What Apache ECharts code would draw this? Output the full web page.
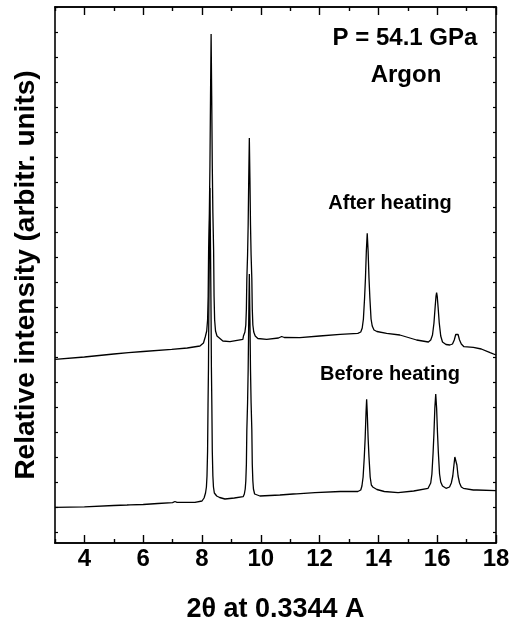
<!DOCTYPE html>
<html>
<head>
<meta charset="utf-8">
<script src="https://cdn.jsdelivr.net/npm/echarts@6/dist/echarts.min.js"></script>
<style>
  html, body { margin: 0; padding: 0; background: #fff; }
  #chart { width: 509px; height: 623px; }
</style>
</head>
<body>
<div id="chart"></div>
<script>
// Diffraction patterns at 54.1 GPa, Argon medium: [2theta (deg), intensity (arb. units, upper trace offset)]
const afterHeating = [
  [3.0, 183.7], [4.0, 186], [5.0, 189], [5.5, 190.4], [6.0, 191.5], [6.97, 193.7], [7.5, 195],
  [7.93, 197], [8.05, 200], [8.11, 206], [8.16, 212], [8.19, 223], [8.21, 247], [8.225, 293],
  [8.25, 330], [8.27, 377], [8.29, 447], [8.31, 509], [8.33, 447], [8.35, 377], [8.37, 330],
  [8.395, 293], [8.41, 247], [8.43, 223], [8.46, 212], [8.51, 207], [8.71, 202], [8.95, 201.3],
  [9.39, 203.7], [9.41, 207], [9.46, 211], [9.49, 218], [9.51, 234], [9.525, 264], [9.55, 288],
  [9.57, 318], [9.59, 365], [9.61, 405], [9.63, 365], [9.65, 318], [9.67, 288], [9.695, 264],
  [9.71, 234], [9.73, 218], [9.76, 211], [9.81, 207], [9.9, 204.5], [10.2, 203.7], [10.6, 205],
  [10.71, 206.5], [10.8, 205.5], [11.33, 205.3], [12.0, 207], [12.7, 208.7], [13.3, 209.7],
  [13.4, 211], [13.45, 215], [13.49, 224], [13.53, 245], [13.56, 265], [13.59, 292], [13.62, 309.7],
  [13.65, 292], [13.68, 265], [13.71, 245], [13.75, 224], [13.79, 217], [13.85, 213], [13.95, 211.5],
  [14.28, 209.7], [14.73, 208], [15.3, 203], [15.7, 201], [15.78, 203], [15.84, 208], [15.89, 220],
  [15.93, 236], [15.96, 247], [15.98, 250.3], [16.0, 247], [16.03, 236], [16.07, 220], [16.12, 207],
  [16.18, 201], [16.3, 198.5], [16.43, 198], [16.52, 199], [16.58, 203], [16.63, 208.5],
  [16.67, 210.3], [16.71, 208.5], [16.76, 203], [16.82, 199], [16.91, 196.3], [17.23, 195.7],
  [17.5, 194], [17.8, 190.3], [18.0, 188]
];

const beforeHeating = [
  [3.0, 35.7], [4.0, 36.2], [5.0, 37.5], [5.45, 38], [5.5, 39], [5.55, 38.2], [6.0, 38.5],
  [6.5, 39.5], [7.0, 40.3], [7.08, 41.5], [7.15, 40.7], [7.76, 40.7], [8.0, 42], [8.07, 45],
  [8.12, 50], [8.15, 56], [8.17, 67], [8.19, 92], [8.205, 138], [8.22, 175], [8.23, 222],
  [8.25, 293], [8.27, 355], [8.29, 293], [8.31, 222], [8.32, 175], [8.335, 138], [8.35, 92],
  [8.37, 67], [8.39, 56], [8.42, 50], [8.5, 47], [8.6, 45.5], [8.78, 44], [9.1, 45], [9.4, 46.3],
  [9.44, 49], [9.47, 54], [9.49, 62], [9.51, 79], [9.525, 113], [9.55, 140], [9.57, 173],
  [9.59, 224], [9.61, 269], [9.63, 224], [9.65, 173], [9.67, 140], [9.695, 113], [9.71, 79],
  [9.73, 62], [9.75, 54], [9.79, 49], [9.97, 47], [10.65, 48], [11.1, 49], [11.16, 49.7],
  [11.22, 49.2], [11.84, 50.3], [12.7, 51.5], [13.3, 51.5], [13.4, 53], [13.44, 57], [13.48, 66],
  [13.52, 86], [13.55, 105], [13.58, 131], [13.6, 143.7], [13.62, 131], [13.65, 105], [13.68, 86],
  [13.72, 66], [13.76, 58], [13.82, 55.7], [13.95, 53.5], [14.2, 51.5], [14.67, 50.3], [15.2, 52],
  [15.69, 54.7], [15.74, 56], [15.78, 60], [15.82, 69], [15.86, 90], [15.89, 110], [15.92, 135],
  [15.95, 149], [15.98, 135], [16.01, 110], [16.04, 90], [16.08, 69], [16.12, 61], [16.18, 57],
  [16.3, 54.7], [16.42, 56], [16.48, 60], [16.53, 67], [16.57, 78], [16.6, 86], [16.62, 88],
  [16.64, 86], [16.67, 78], [16.71, 67], [16.76, 60], [16.82, 56], [16.89, 54.7], [17.23, 53],
  [17.29, 54], [17.35, 53], [18.0, 52.3]
];

// Axis ticks
const xMajorTicks = [4, 6, 8, 10, 12, 14, 16, 18];
const xMinorTicks = [3, 5, 7, 9, 11, 13, 15, 17];
const yTicks = [11, 36, 61, 86, 111, 136, 161, 186, 211, 236, 261, 286, 311, 336, 361, 386, 411, 436, 461, 486, 511, 536];

// Text
const xTitle = '2\u03b8 at 0.3344 A';
const yTitle = 'Relative intensity (arbitr. units)';
const pressureText = 'P = 54.1 GPa';
const mediumText = 'Argon';
const afterText = 'After heating';
const beforeText = 'Before heating';

const FONT = '"Liberation Sans", Arial, sans-serif';
const frame = { show: true, lineStyle: { color: '#000', width: 1.6 } };

function xAxisDef(position, ticks, len, opts) {
  return Object.assign({
    type: 'value', min: 3, max: 18, position: position, gridIndex: 0,
    axisLine: Object.assign({}, frame, { onZero: false }),
    axisTick: { show: true, inside: true, length: len, customValues: ticks, lineStyle: { color: '#000', width: 1.4 } },
    axisLabel: { show: false },
    splitLine: { show: false }
  }, opts || {});
}

function yAxisDef(position, opts) {
  return Object.assign({
    type: 'value', min: 0, max: 536, position: position, gridIndex: 0,
    axisLine: Object.assign({}, frame, { onZero: false }),
    axisTick: { show: true, inside: true, length: 3, customValues: yTicks, lineStyle: { color: '#000', width: 1.2 } },
    axisLabel: { show: false },
    splitLine: { show: false }
  }, opts || {});
}

const chart = echarts.init(document.getElementById('chart'), null, { renderer: 'canvas' });

chart.setOption({
  animation: false,
  backgroundColor: '#fff',
  grid: { left: 55, right: 13, top: 7, bottom: 80, containLabel: false, outerBoundsMode: 'none' },
  xAxis: [
    xAxisDef('bottom', xMajorTicks, 8, {
      axisLabel: {
        show: true, customValues: xMajorTicks, margin: 4,
        fontSize: 24, fontWeight: 'bold', color: '#000', fontFamily: FONT
      },
      name: xTitle, nameLocation: 'middle', nameGap: 53,
      nameTextStyle: { fontSize: 27, fontWeight: 'bold', color: '#000', fontFamily: FONT }
    }),
    xAxisDef('bottom', xMinorTicks, 4),
    xAxisDef('top', xMajorTicks, 8),
    xAxisDef('top', xMinorTicks, 4)
  ],
  yAxis: [
    yAxisDef('left', {
      name: yTitle, nameLocation: 'middle', nameGap: 15,
      nameTextStyle: { fontSize: 28, fontWeight: 'bold', color: '#000', fontFamily: FONT }
    }),
    yAxisDef('right')
  ],
  series: [
    {
      name: afterText, type: 'line', xAxisIndex: 0, yAxisIndex: 0,
      data: afterHeating, showSymbol: false, symbol: 'none',
      lineStyle: { color: '#000', width: 1.3 }
    },
    {
      name: beforeText, type: 'line', xAxisIndex: 0, yAxisIndex: 0,
      data: beforeHeating, showSymbol: false, symbol: 'none',
      lineStyle: { color: '#000', width: 1.3 }
    }
  ],
  graphic: [
    { type: 'text', x: 405, y: 38, style: { text: pressureText, fill: '#000', font: 'bold 24px ' + FONT, textAlign: 'center', textVerticalAlign: 'middle' } },
    { type: 'text', x: 406, y: 75, style: { text: mediumText, fill: '#000', font: 'bold 24px ' + FONT, textAlign: 'center', textVerticalAlign: 'middle' } },
    { type: 'text', x: 390, y: 203, style: { text: afterText, fill: '#000', font: 'bold 20px ' + FONT, textAlign: 'center', textVerticalAlign: 'middle' } },
    { type: 'text', x: 390, y: 374, style: { text: beforeText, fill: '#000', font: 'bold 20px ' + FONT, textAlign: 'center', textVerticalAlign: 'middle' } }
  ]
});
</script>
</body>
</html>
